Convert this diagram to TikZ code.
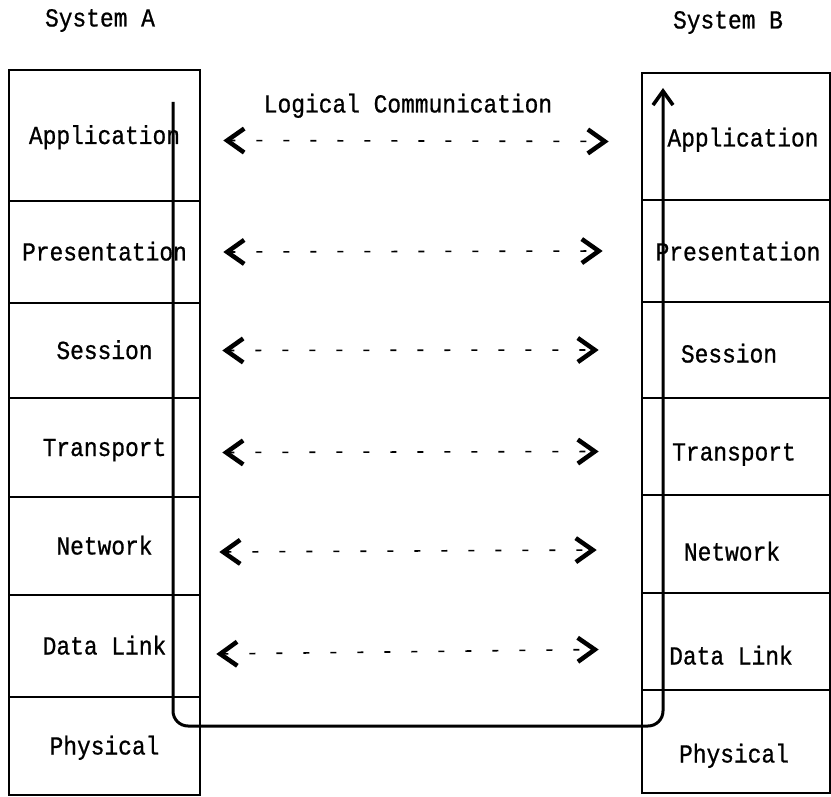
\documentclass[tikz,border=0pt]{standalone}
\usepackage{fontspec}
\setmainfont{Liberation Mono}[FakeStretch=0.88,FakeBold=0.8]
\usetikzlibrary{arrows.meta}
\tikzset{
  txt/.style={font=\fontsize{26}{28}\selectfont, text height=17pt, text depth=0pt},
  cell/.style={draw, line width=2.6pt, inner sep=0pt, minimum width=#1, txt},
  lbl/.style={inner sep=0pt, txt},
  logic/.style={line width=1.6pt, dash pattern=on 6pt off 21pt,
    {Straight Barb[length=17pt,width=24pt,line width=4.5pt]}-{Straight Barb[length=17pt,width=24pt,line width=4.5pt]}},
  flow/.style={line width=3pt, rounded corners=15pt, -{Straight Barb[length=14pt,width=20pt,line width=3.6pt]}}
}
\begin{document}
\begin{tikzpicture}[x=1pt,y=-1pt]
\useasboundingbox (0,0) rectangle (831,797);
% Left stack
\node[cell=191pt, minimum height=131pt] (LA) at (104.5,135.5) {Application};
\node[cell=191pt, minimum height=102pt] (LP) at (104.5,252) {Presentation};
\node[cell=191pt, minimum height=95pt] (LS) at (104.5,350.5) {Session};
\node[cell=191pt, minimum height=99pt] (LT) at (104.5,447.5) {Transport};
\node[cell=191pt, minimum height=98pt] (LN) at (104.5,546) {Network};
\node[cell=191pt, minimum height=102pt] (LD) at (104.5,646) {Data Link};
\node[cell=191pt, minimum height=98pt] (LH) at (104.5,746) {Physical};
% Right stack
\node[cell=188pt, minimum height=127pt] (RA) at (736,136.5) {};
\node[cell=188pt, minimum height=102pt] (RP) at (736,251) {};
\node[cell=188pt, minimum height=96pt] (RS) at (736,350) {};
\node[cell=188pt, minimum height=97pt] (RT) at (736,446.5) {};
\node[cell=188pt, minimum height=98pt] (RN) at (736,544) {};
\node[cell=188pt, minimum height=97pt] (RD) at (736,641.5) {};
\node[cell=188pt, minimum height=103pt] (RH) at (736,741.5) {};
\node[lbl] (RAt) at (743,138) {Application};
\node[lbl] (RPt) at (738,252) {Presentation};
\node[lbl] (RSt) at (729,354) {Session};
\node[lbl] (RTt) at (734,452) {Transport};
\node[lbl] (RNt) at (732,552) {Network};
\node[lbl] (RDt) at (731,656) {Data Link};
\node[lbl] (RHt) at (734,754) {Physical};
% Headers
\node[lbl] (SA) at (100,18) {System A};
\node[lbl] (SB) at (728,20) {System B};
\node[lbl] (LC) at (408,104) {Logical Communication};
% Logical arrows
\draw[logic] ([xshift=22pt,yshift=-5pt]LA.east) -- ([xshift=-32pt,yshift=-5pt]RA.west);
\draw[logic] ([xshift=22pt]LP.east) -- ([xshift=-38pt]RP.west);
\draw[logic] ([xshift=21pt]LS.east) -- ([xshift=-42pt]RS.west);
\draw[logic] ([xshift=21pt,yshift=-5pt]LT.east) -- ([xshift=-42pt,yshift=-5pt]RT.west);
\draw[logic] ([xshift=18pt,yshift=-6pt]LN.east) -- ([xshift=-44pt,yshift=-6pt]RN.west);
\draw[logic] ([xshift=15pt,yshift=-8pt]LD.east) -- ([xshift=-42pt,yshift=-8pt]RD.west);
% Flow path
\coordinate (fs) at (173,102);
\coordinate (fe) at (663,88);
\draw[flow] (fs) -- (173,726) -- (663,726) -- (fe);
\end{tikzpicture}
\end{document}
